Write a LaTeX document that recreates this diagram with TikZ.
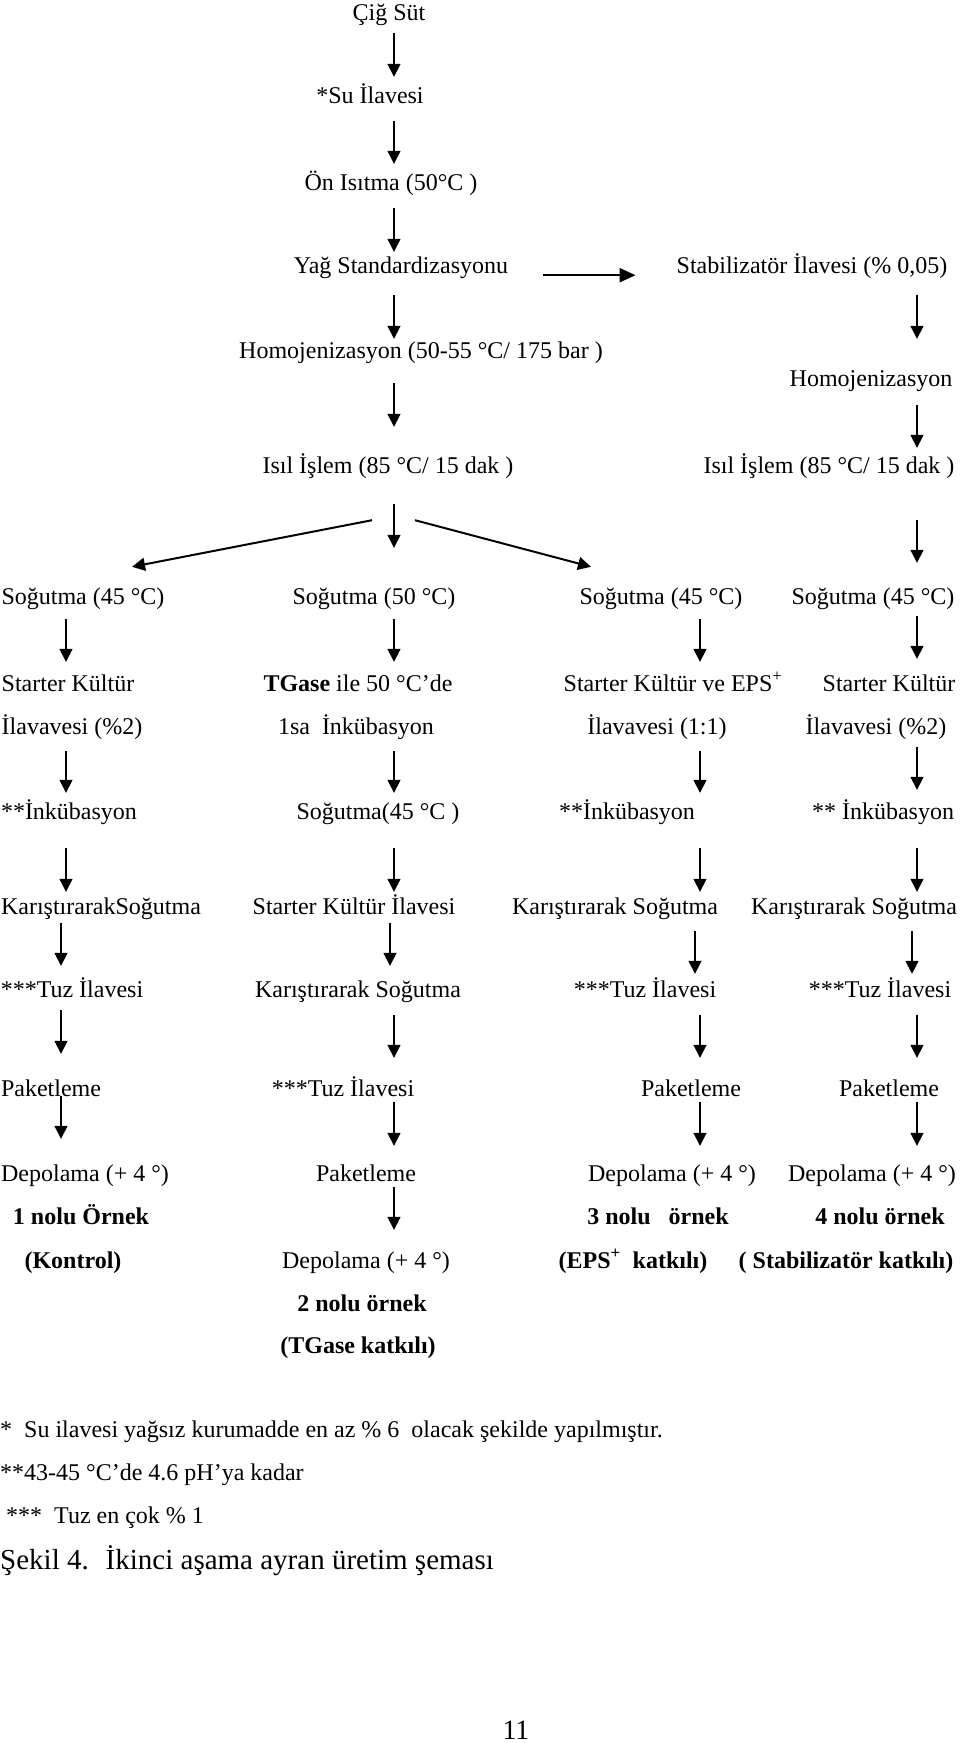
\documentclass[tikz,border=0pt]{standalone}
\usepackage{fontspec}
\setmainfont{Liberation Serif}
\usepackage{tikz}
\usetikzlibrary{arrows.meta}
\tikzstyle{stage} = [inner sep=0pt, text height=16pt, text depth=0pt, font=\fontsize{24}{28}\selectfont]
\tikzstyle{sample} = [stage, font=\fontsize{24}{28}\selectfont\bfseries]
\tikzstyle{note} = [stage, anchor=west]
\tikzstyle{arrow} = [line width=1.6pt, -{Triangle[length=13pt,width=13pt]}, shorten <=15pt, shorten >=12pt]
\tikzstyle{diag} = [arrow, line width=2pt, shorten <=0pt, shorten >=0pt]
\tikzstyle{side} = [arrow, line width=2.4pt, -{Triangle[length=16pt,width=14pt]}]

\begin{document}
\begin{tikzpicture}[x=1pt, y=-1pt]
\useasboundingbox (0,0) rectangle (960,1743);

% main line
\node (cig) [stage] at (389,12) {Çiğ Süt};
\node (su) [stage] at (370,95) {*Su İlavesi};
\node (on) [stage] at (391,182) {Ön Isıtma (50°C )};
\node (yag) [stage] at (401,265) {Yağ Standardizasyonu};
\node (stab) [stage] at (812,265) {Stabilizatör İlavesi (\% 0,05)};
\node (homoA) [stage] at (421,350) {Homojenizasyon (50-55 °C/ 175 bar )};
\node (homoB) [stage] at (871,378) {Homojenizasyon};
\node (isilA) [stage] at (388,465) {Isıl İşlem (85 °C/ 15 dak )};
\node (isilB) [stage] at (829,465) {Isıl İşlem (85 °C/ 15 dak )};

% four branches
\node (sog1) [stage] at (83,596) {Soğutma (45 °C)};
\node (sog2) [stage] at (374,596) {Soğutma (50 °C)};
\node (sog3) [stage] at (661,596) {Soğutma (45 °C)};
\node (sog4) [stage] at (873,596) {Soğutma (45 °C)};

\node (kul1) [stage] at (68,683) {Starter Kültür};
\node (kul2) [stage] at (358,683) {\textbf{TGase} ile 50 °C’de};
\node (kul3) [stage] at (673,683) {Starter Kültür ve EPS\textsuperscript{+}};
\node (kul4) [stage] at (889,683) {Starter Kültür};

\node (ila1) [stage] at (72,726) {İlavavesi (\%2)};
\node (ila2) [stage] at (356,726) {1sa~ İnkübasyon};
\node (ila3) [stage] at (657,726) {İlavavesi (1:1)};
\node (ila4) [stage] at (876,726) {İlavavesi (\%2)};

\node (ink1) [stage] at (69,811) {**İnkübasyon};
\node (ink2) [stage] at (378,811) {Soğutma(45 °C )};
\node (ink3) [stage] at (627,811) {**İnkübasyon};
\node (ink4) [stage] at (883,811) {** İnkübasyon};

\node (kar1) [stage] at (101,906) {KarıştırarakSoğutma};
\node (kar2) [stage] at (354,906) {Starter Kültür İlavesi};
\node (kar3) [stage] at (615,906) {Karıştırarak Soğutma};
\node (kar4) [stage] at (854,906) {Karıştırarak Soğutma};

\node (tuz1) [stage] at (72,989) {***Tuz İlavesi};
\node (tuz2) [stage] at (358,989) {Karıştırarak Soğutma};
\node (tuz3) [stage] at (645,989) {***Tuz İlavesi};
\node (tuz4) [stage] at (880,989) {***Tuz İlavesi};

\node (pak1) [stage] at (51,1088) {Paketleme};
\node (pak2) [stage] at (343,1088) {***Tuz İlavesi};
\node (pak3) [stage] at (691,1088) {Paketleme};
\node (pak4) [stage] at (889,1088) {Paketleme};

\node (dep1) [stage] at (85,1173) {Depolama (+ 4 °)};
\node (pakB) [stage] at (366,1173) {Paketleme};
\node (dep3) [stage] at (672,1173) {Depolama (+ 4 °)};
\node (dep4) [stage] at (872,1173) {Depolama (+ 4 °)};
\node (dep2) [stage] at (366,1260) {Depolama (+ 4 °)};

% samples
\node (orn1) [sample] at (81,1216) {1 nolu Örnek};
\node (orn3) [sample] at (658,1216) {3 nolu~~~örnek};
\node (orn4) [sample] at (880,1216) {4 nolu örnek};
\node (kat1) [sample] at (73,1260) {(Kontrol)};
\node (kat3) [sample] at (633,1260) {(EPS\textsuperscript{+}~ katkılı)};
\node (kat4) [sample] at (846,1260) {( Stabilizatör katkılı)};
\node (orn2) [sample] at (362,1303) {2 nolu örnek};
\node (kat2) [sample] at (358,1345) {(TGase katkılı)};

% notes
\node (not1) [note] at (0,1429) {*~ Su ilavesi yağsız kurumadde en az \% 6~ olacak şekilde yapılmıştır.};
\node (not2) [note] at (0,1472) {**43-45 °C’de 4.6 pH’ya kadar};
\node (not3) [note] at (6,1515) {***~ Tuz en çok \% 1};
\node (cap) [note, font=\fontsize{29}{34}\selectfont] at (0,1561) {Şekil 4.~ İkinci aşama ayran üretim şeması};
\node (page) [stage, font=\fontsize{28}{32}\selectfont] at (516,1731) {11};

\draw [arrow, shorten <=13pt, shorten >=10pt] (cig.south -| 394,0) -- (su.north -| 394,0);
\draw [arrow, shorten <=18pt, shorten >=10pt] (su.south -| 394,0) -- (on.north -| 394,0);
\draw [arrow, shorten <=18pt, shorten >=5pt] (on.south -| 394,0) -- (yag.north -| 394,0);
\draw [arrow, shorten <=22pt, shorten >=3pt] (yag.south -| 394,0) -- (homoA.north -| 394,0);
\draw [arrow, shorten <=25pt, shorten >=30pt] (homoA.south -| 394,0) -- (isilA.north -| 394,0);
\draw [arrow, shorten <=31pt, shorten >=40pt] (isilA.south -| 394,0) -- (sog2.north -| 394,0);
\draw [diag] ([xshift=-16pt,yshift=-47pt]isilA.south) -- ([xshift=49pt,yshift=21pt]sog1.north);
\draw [diag] ([xshift=27pt,yshift=-47pt]isilA.south) -- ([xshift=-70pt,yshift=21pt]sog3.north);

\draw [side, shorten <=35pt, shorten >=41pt] ([yshift=-2pt]yag.south east) -- ([yshift=-2pt]stab.south west);
\draw [arrow, shorten <=22pt, shorten >=31pt] (stab.south -| 917,0) -- (homoB.north -| 917,0);
\draw [arrow, shorten <=19pt, shorten >=9pt] (homoB.south -| 917,0) -- (isilB.north -| 917,0);
\draw [arrow, shorten <=47pt, shorten >=25pt] (isilB.south -| 917,0) -- (sog4.north -| 917,0);

\draw [arrow, shorten >=13pt] (sog1.south -| 66,0) -- (kul1.north -| 66,0);
\draw [arrow, shorten >=13pt] (sog2.south -| 394,0) -- (kul2.north -| 394,0);
\draw [arrow, shorten >=13pt] (sog3.south -| 700,0) -- (kul3.north -| 700,0);
\draw [arrow, shorten <=12pt, shorten >=16pt] (sog4.south -| 917,0) -- (kul4.north -| 917,0);

\draw [arrow, shorten <=17pt, shorten >=10pt] (ila1.south -| 66,0) -- (ink1.north -| 66,0);
\draw [arrow, shorten <=17pt, shorten >=10pt] (ila2.south -| 394,0) -- (ink2.north -| 394,0);
\draw [arrow, shorten <=17pt, shorten >=10pt] (ila3.south -| 700,0) -- (ink3.north -| 700,0);
\draw [arrow, shorten <=13pt, shorten >=13pt] (ila4.south -| 917,0) -- (ink4.north -| 917,0);

\draw [arrow, shorten <=29pt, shorten >=6pt] (ink1.south -| 66,0) -- (kar1.north -| 66,0);
\draw [arrow, shorten <=29pt, shorten >=6pt] (ink2.south -| 394,0) -- (kar2.north -| 394,0);
\draw [arrow, shorten <=29pt, shorten >=6pt] (ink3.south -| 700,0) -- (kar3.north -| 700,0);
\draw [arrow, shorten <=29pt, shorten >=6pt] (ink4.south -| 917,0) -- (kar4.north -| 917,0);

\draw [arrow, shorten <=9pt, shorten >=15pt] (kar1.south -| 61,0) -- (tuz1.north -| 61,0);
\draw [arrow, shorten <=9pt, shorten >=15pt] (kar2.south -| 390,0) -- (tuz2.north -| 390,0);
\draw [arrow, shorten <=17pt, shorten >=7pt] (kar3.south -| 695,0) -- (tuz3.north -| 695,0);
\draw [arrow, shorten <=17pt, shorten >=7pt] (kar4.south -| 912,0) -- (tuz4.north -| 912,0);

\draw [arrow, shorten <=13pt, shorten >=26pt] (tuz1.south -| 61,0) -- (pak1.north -| 61,0);
\draw [arrow, shorten <=18pt, shorten >=22pt] (tuz2.south -| 394,0) -- (pak2.north -| 394,0);
\draw [arrow, shorten <=18pt, shorten >=22pt] (tuz3.south -| 700,0) -- (pak3.north -| 700,0);
\draw [arrow, shorten <=18pt, shorten >=22pt] (tuz4.south -| 917,0) -- (pak4.north -| 917,0);

\draw [arrow, shorten <=0pt, shorten >=26pt] (pak1.south -| 61,0) -- (dep1.north -| 61,0);
\draw [arrow, shorten <=6pt, shorten >=19pt] (pak2.south -| 394,0) -- (pakB.north -| 394,0);
\draw [arrow, shorten <=6pt, shorten >=19pt] (pak3.south -| 700,0) -- (dep3.north -| 700,0);
\draw [arrow, shorten <=6pt, shorten >=19pt] (pak4.south -| 917,0) -- (dep4.north -| 917,0);
\draw [arrow, shorten <=6pt, shorten >=22pt] (pakB.south -| 394,0) -- (dep2.north -| 394,0);

\end{tikzpicture}
\end{document}
